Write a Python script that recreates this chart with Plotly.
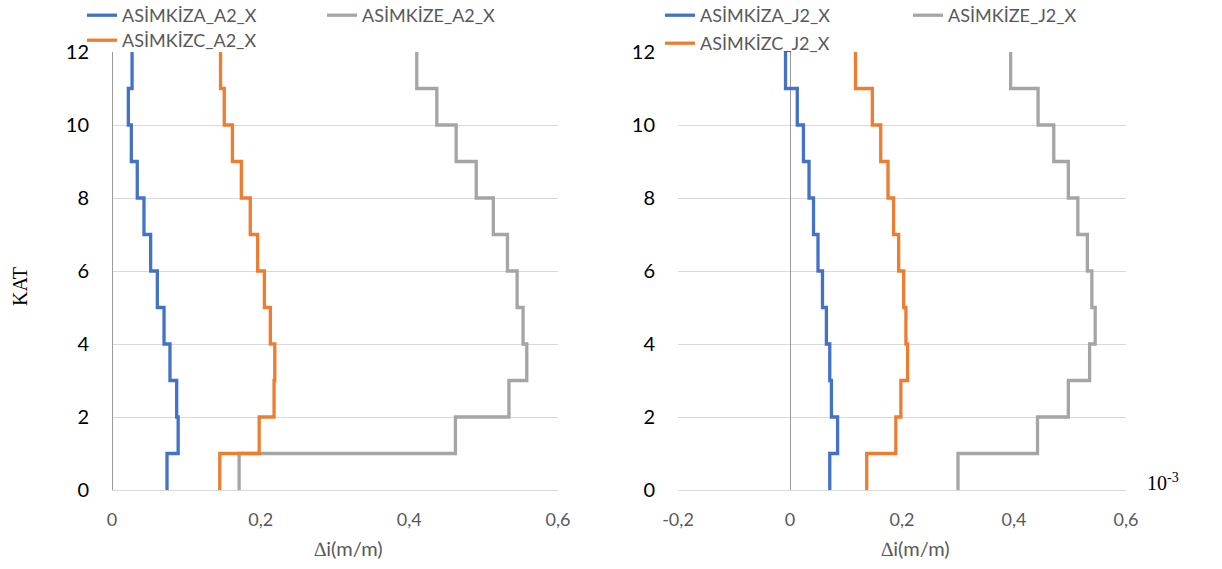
import plotly.graph_objects as go

# ---------------- data ----------------
stories = list(range(1, 13))  # KAT 1..12

# Left panel (A2)
a2_A = [0.074, 0.089, 0.087, 0.078, 0.070, 0.061, 0.052, 0.043, 0.034, 0.026, 0.022, 0.027]
a2_C = [0.145, 0.198, 0.218, 0.219, 0.213, 0.205, 0.196, 0.186, 0.174, 0.162, 0.151, 0.146]
a2_E = [0.171, 0.462, 0.534, 0.558, 0.553, 0.545, 0.532, 0.513, 0.490, 0.463, 0.437, 0.410]

# Right panel (J2)
j2_A = [0.071, 0.085, 0.074, 0.071, 0.065, 0.058, 0.050, 0.042, 0.034, 0.024, 0.013, -0.008]
j2_C = [0.137, 0.189, 0.198, 0.210, 0.207, 0.203, 0.194, 0.185, 0.175, 0.162, 0.147, 0.117]
j2_E = [0.300, 0.442, 0.497, 0.535, 0.545, 0.539, 0.531, 0.514, 0.497, 0.471, 0.443, 0.394]

names_left = ["ASİMKİZA_A2_X", "ASİMKİZC_A2_X", "ASİMKİZE_A2_X"]
names_right = ["ASİMKİZA_J2_X", "ASİMKİZC_J2_X", "ASİMKİZE_J2_X"]

x_ticks_left = [0, 0.2, 0.4, 0.6]
x_ticktext_left = ["0", "0,2", "0,4", "0,6"]
x_ticks_right = [-0.2, 0, 0.2, 0.4, 0.6]
x_ticktext_right = ["-0,2", "0", "0,2", "0,4", "0,6"]
y_ticks = [0, 2, 4, 6, 8, 10, 12]

BLUE = "#4472C4"
ORANGE = "#ED7D31"
GREY = "#A5A5A5"

W, H = 1222, 569
def px(x):
    return x / W
def py(y):
    return 1 - y / H

def step_xy(vals):
    xs = list(vals) + [vals[-1]]
    ys = [s - 1 for s in stories] + [stories[-1]]
    return xs, ys

fig = go.Figure()

# order: A, E (legend row 1), C (legend row 2)
left_series = [(a2_A, names_left[0], BLUE, "legend"),
               (a2_E, names_left[2], GREY, "legend"),
               (a2_C, names_left[1], ORANGE, "legend2")]
right_series = [(j2_A, names_right[0], BLUE, "legend3"),
                (j2_E, names_right[2], GREY, "legend3"),
                (j2_C, names_right[1], ORANGE, "legend4")]

LW = 3.3
for vals, name, col, lg in left_series:
    xs, ys = step_xy(vals)
    fig.add_trace(go.Scatter(x=xs, y=ys, mode="lines", name=name, line=dict(color=col, width=LW, shape="vh"),
                             xaxis="x", yaxis="y", legend=lg))
for vals, name, col, lg in right_series:
    xs, ys = step_xy(vals)
    fig.add_trace(go.Scatter(x=xs, y=ys, mode="lines", name=name, line=dict(color=col, width=LW, shape="vh"),
                             xaxis="x2", yaxis="y2", legend=lg))

tickfont_x = dict(family="Lato", size=18, color="#595959")
tickfont_y = dict(family="Lato", size=20, color="#000000")
legfont = dict(family="Lato", size=18, color="#595959")

common_y = dict(range=[0, 12], tickvals=y_ticks, showgrid=True, gridcolor="#D9D9D9", gridwidth=1,
                zeroline=True, zerolinecolor="#D9D9D9", zerolinewidth=1, showline=False,
                tickfont=tickfont_y, ticks="", ticklabelstandoff=22, automargin=False, fixedrange=True)

leg_common = dict(xanchor="left", yanchor="top", orientation="h", font=legfont,
                  bgcolor="rgba(0,0,0,0)", borderwidth=0)

fig.update_layout(
    width=W, height=H,
    margin=dict(l=0, r=0, t=0, b=0, pad=0, autoexpand=False),
    paper_bgcolor="white", plot_bgcolor="white",
    xaxis=dict(domain=[px(112), px(558)], range=[0, 0.6], tickvals=x_ticks_left, ticktext=x_ticktext_left,
               showgrid=False, zeroline=True, zerolinecolor="#9A9A9A", zerolinewidth=1, showline=False,
               tickfont=tickfont_x, ticks="", ticklabelstandoff=17, anchor="y", automargin=False),
    yaxis=dict(domain=[py(490), py(52)], anchor="x", **common_y),
    xaxis2=dict(domain=[px(678), px(1126)], range=[-0.2, 0.6], tickvals=x_ticks_right, ticktext=x_ticktext_right,
                showgrid=False, zeroline=True, zerolinecolor="#9A9A9A", zerolinewidth=1, showline=False,
                tickfont=tickfont_x, ticks="", ticklabelstandoff=17, anchor="y2", automargin=False),
    yaxis2=dict(domain=[py(490), py(52)], anchor="x2", **common_y),
    legend=dict(x=px(82), y=py(-3), entrywidth=195, entrywidthmode="pixels", **leg_common),
    legend2=dict(x=px(82), y=py(22), **leg_common),
    legend3=dict(x=px(660), y=py(-3), entrywidth=203, entrywidthmode="pixels", **leg_common),
    legend4=dict(x=px(660), y=py(25), **leg_common),
    showlegend=True,
)

annos = [
    dict(text="∆i(m/m)", x=px(348), y=py(548), font=dict(family="Lato", size=20, color="#595959")),
    dict(text="∆i(m/m)", x=px(915), y=py(548), font=dict(family="Lato", size=20, color="#595959")),
    dict(text="KAT", x=px(20), y=py(287), textangle=-90, font=dict(family="Liberation Serif", size=20, color="#000000")),
    dict(text="10<sup>-3</sup>", x=px(1163), y=py(482), font=dict(family="Liberation Serif", size=20, color="#000000")),
]
for a in annos:
    fig.add_annotation(xref="paper", yref="paper", xanchor="center", yanchor="middle", showarrow=False, **a)

fig.write_html("out.html", config={"displayModeBar": False},
               post_script="document.body.style.margin='0';")
